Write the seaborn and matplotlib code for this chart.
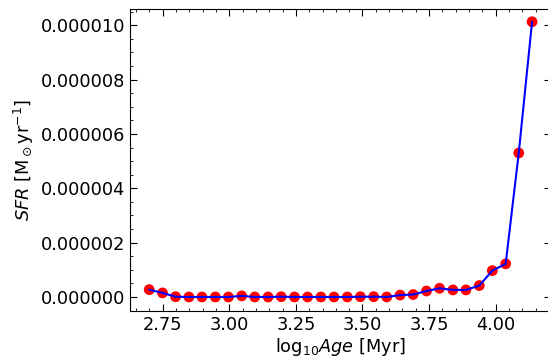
import numpy as np
import pandas as pd
import seaborn as sns
import matplotlib
matplotlib.use("Agg")
import matplotlib.pyplot as plt
from matplotlib.ticker import AutoMinorLocator, FormatStrFormatter

log_age = [2.700, 2.750, 2.799, 2.849, 2.898, 2.948, 2.997, 3.047, 3.096, 3.146,
           3.195, 3.245, 3.294, 3.344, 3.393, 3.443, 3.492, 3.542, 3.591, 3.641,
           3.690, 3.740, 3.789, 3.839, 3.888, 3.938, 3.987, 4.037, 4.086, 4.136]
sfr_e6 = [0.27, 0.15, 0.01, 0.0, 0.0, 0.0, 0.0, 0.04, 0.0, 0.0,
          0.01, 0.0, 0.0, 0.0, 0.0, 0.0, 0.01, 0.01, 0.0, 0.07,
          0.09, 0.22, 0.32, 0.26, 0.26, 0.42, 0.97, 1.22, 5.30, 10.13]
sfr = [v * 1e-6 for v in sfr_e6]

df = pd.DataFrame({"log_age": log_age, "sfr": sfr})

sns.set_style("ticks")
plt.rcParams['font.family'] = ['DejaVu Sans']
plt.rcParams['mathtext.fontset'] = 'dejavusans'
plt.rcParams['text.color'] = 'black'
plt.rcParams['axes.labelcolor'] = 'black'
plt.rcParams['xtick.color'] = 'black'
plt.rcParams['ytick.color'] = 'black'
plt.rcParams['axes.edgecolor'] = 'black'

fig = plt.figure(figsize=(5.48, 3.61), dpi=100)
ax = fig.add_axes([130/548, 1 - 310.7/361, (551 - 130)/548, (310.7 - 9)/361])

sns.scatterplot(data=df, x="log_age", y="sfr", ax=ax, color="red", s=60,
                edgecolor="none", zorder=2)
sns.lineplot(data=df, x="log_age", y="sfr", ax=ax, color="blue", lw=1.5,
             zorder=3)

ax.yaxis.set_major_formatter(FormatStrFormatter('%.6f'))
ax.xaxis.set_minor_locator(AutoMinorLocator(5))
ax.yaxis.set_minor_locator(AutoMinorLocator(4))
ax.tick_params(which='both', direction='in', top=True, right=True, labelsize=12.8,
               colors='black')
ax.tick_params(which='major', length=5, width=0.8)
ax.tick_params(which='minor', length=2.5, width=0.6)
ax.set_yticks([0, 2e-6, 4e-6, 6e-6, 8e-6, 10e-6])
ax.set_xticks([2.75, 3.00, 3.25, 3.50, 3.75, 4.00])
ax.set_xlim(2.628, 4.207)
ax.set_ylim(-0.505e-6, 10.6e-6)
ax.set_xlabel(r"log$_{10}$$Age$ [Myr]", fontsize=12.8, labelpad=2, color='black')
ax.set_ylabel(r"$SFR$ [M$_\odot$yr$^{-1}$]", fontsize=12.8, labelpad=3, color='black')
for s in ax.spines.values():
    s.set_linewidth(0.8)
    s.set_color('black')

fig.savefig("out.png", dpi=100)
